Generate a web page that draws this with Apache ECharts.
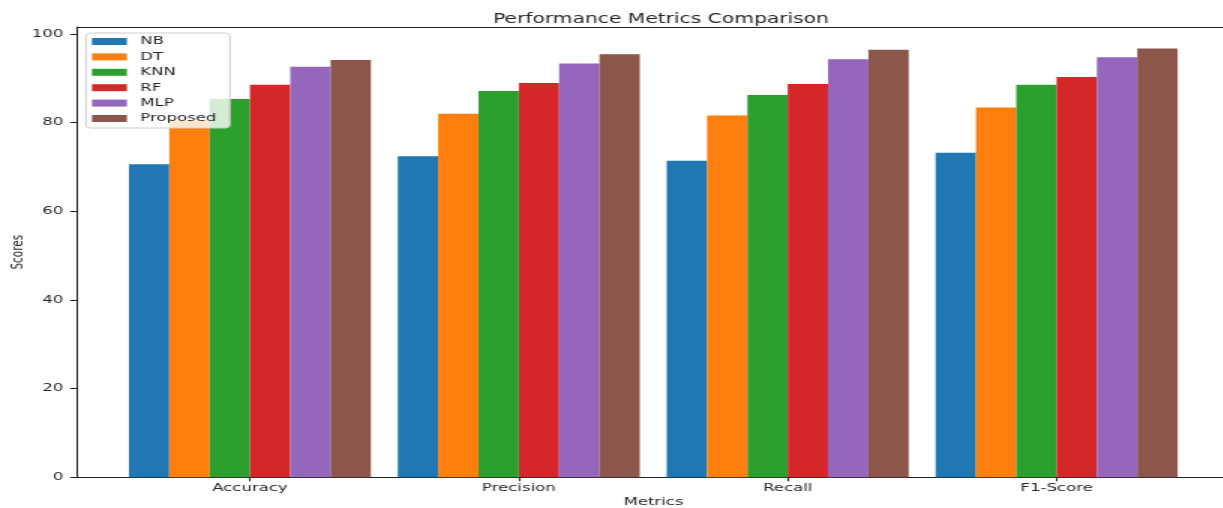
<!DOCTYPE html>
<html>
<head>
<meta charset="utf-8">
<title>Performance Metrics Comparison</title>
<script src="https://cdn.jsdelivr.net/npm/echarts@6/dist/echarts.min.js"></script>
<style>
  html, body { margin: 0; padding: 0; background: #ffffff; overflow: hidden; }
  #wrap { width: 1223px; height: 508px; overflow: hidden; }
  /* the figure is laid out narrow and widened horizontally */
  #chart { width: 815.33px; height: 508px; transform: scaleX(1.5); transform-origin: 0 0; }
</style>
</head>
<body>
<div id="wrap"><div id="chart"></div></div>
<script>
// Metric groups along the x axis
const categories = ['Accuracy', 'Precision', 'Recall', 'F1-Score'];

// Scores (%) per model, one value per metric
const nbScores       = [70.6, 72.4, 71.4, 73.2];
const dtScores       = [80.4, 82.0, 81.6, 83.4];
const knnScores      = [85.3, 87.1, 86.2, 88.5];
const rfScores       = [88.5, 88.9, 88.7, 90.3];
const mlpScores      = [92.6, 93.3, 94.3, 94.7];
const proposedScores = [94.1, 95.4, 96.4, 96.7];

const modelNames = ['NB', 'DT', 'KNN', 'RF', 'MLP', 'Proposed'];
const modelScores = [nbScores, dtScores, knnScores, rfScores, mlpScores, proposedScores];

// Y axis tick labels
const yTicks = [0, 20, 40, 60, 80, 100];

const palette = ['#1f77b4', '#ff7f0e', '#2ca02c', '#d62728', '#9467bd', '#8c564b'];

// Bar geometry in axis units: six bars of width 0.15 side by side per group
const BAR_UNIT = 0.15;
const X_MIN = -0.643, X_MAX = 3.617;
const Y_MAX = 101.55;

const GRID_LEFT = 51.33, GRID_TOP = 27, GRID_BOTTOM = 30.7;
const CHART_W = 815.33;
const chart = echarts.init(document.getElementById('chart'), null, { renderer: 'canvas' });

const pxPerUnit = (CHART_W - GRID_LEFT) / (X_MAX - X_MIN);
// horizontal centre of the axes box (the category span plus its margins)
const AXES_CENTER_X = GRID_LEFT + (1.5 - X_MIN) * pxPerUnit;

const FONT = 'DejaVu Sans';
const TEXT = '#262626';

// each bar is a rectangle spanning [x - w/2, x + w/2] and [0, value] in data space
function renderBar(params, api) {
  const x = api.value(0);
  const y = api.value(1);
  const topLeft = api.coord([x - BAR_UNIT / 2, y]);
  const bottomRight = api.coord([x + BAR_UNIT / 2, 0]);
  return {
    type: 'rect',
    shape: {
      x: topLeft[0],
      y: topLeft[1],
      width: bottomRight[0] - topLeft[0],
      height: bottomRight[1] - topLeft[1]
    },
    style: { fill: api.visual('color') }
  };
}

const series = modelNames.map((name, i) => {
  const offset = (i - (modelNames.length - 1) / 2) * BAR_UNIT;
  return {
    name: name,
    type: 'custom',
    renderItem: renderBar,
    xAxisIndex: 0,
    yAxisIndex: 0,
    itemStyle: { color: palette[i] },
    encode: { x: 0, y: 1 },
    emphasis: { disabled: true },
    data: modelScores[i].map((v, c) => [c + offset, v])
  };
});

const option = {
  animation: false,
  textStyle: { fontFamily: FONT },
  title: {
    text: 'Performance Metrics Comparison',
    left: AXES_CENTER_X,
    textAlign: 'center',
    top: 7,
    textStyle: { fontFamily: FONT, fontSize: 13.5, fontWeight: 'normal', color: TEXT }
  },
  legend: {
    data: modelNames,
    orient: 'vertical',
    left: 57.3,
    top: 33,
    icon: 'rect',
    itemWidth: 23.3,
    itemHeight: 7,
    itemGap: 2.4,
    padding: [2, 9, 3, 4],
    backgroundColor: 'rgba(255,255,255,0.8)',
    borderColor: '#cccccc',
    borderWidth: 1,
    borderRadius: 3,
    textStyle: { fontFamily: FONT, fontSize: 11, color: TEXT, lineHeight: 13, padding: [0, 0, 0, 4] },
    selectedMode: false,
    z: 10
  },
  grid: {
    left: GRID_LEFT, right: 0, top: GRID_TOP, bottom: GRID_BOTTOM,
    containLabel: false,
    outerBoundsMode: 'none'
  },
  xAxis: [
    {
      type: 'value',
      min: X_MIN,
      max: X_MAX,
      position: 'bottom',
      axisLine: { show: true, onZero: false, lineStyle: { color: '#222', width: 1 } },
      axisTick: { show: true, length: 4, lineStyle: { color: '#222' }, customValues: categories.map((_, i) => i) },
      axisLabel: {
        customValues: categories.map((_, i) => i),
        formatter: (v) => categories[Math.round(v)] || '',
        margin: 5,
        fontFamily: FONT, fontSize: 11, color: TEXT
      },
      splitLine: { show: false }
    },
    {
      // top spine of the plot frame
      type: 'value',
      min: X_MIN,
      max: X_MAX,
      position: 'top',
      axisLine: { show: true, onZero: false, lineStyle: { color: '#222', width: 1 } },
      axisTick: { show: false },
      axisLabel: { show: false },
      splitLine: { show: false }
    }
  ],
  yAxis: {
    type: 'value',
    min: 0,
    max: Y_MAX,
    name: 'Scores',
    nameLocation: 'middle',
    nameGap: 34,
    nameMoveOverlap: false,
    nameTextStyle: { fontFamily: FONT, fontSize: 10.5, color: TEXT },
    axisLine: { show: true, onZero: false, lineStyle: { color: '#222', width: 1 } },
    axisTick: { show: true, length: 4.5, lineStyle: { color: '#222' }, customValues: yTicks },
    axisLabel: { customValues: yTicks, margin: 9, fontFamily: FONT, fontSize: 11, color: TEXT },
    splitLine: { show: false }
  },
  graphic: [
    {
      type: 'text',
      style: {
        text: 'Metrics',
        x: AXES_CENTER_X,
        y: 502,
        textAlign: 'center',
        textVerticalAlign: 'middle',
        font: '11px "DejaVu Sans"',
        fill: TEXT
      }
    }
  ],
  series: series
};

chart.setOption(option);
</script>
</body>
</html>
